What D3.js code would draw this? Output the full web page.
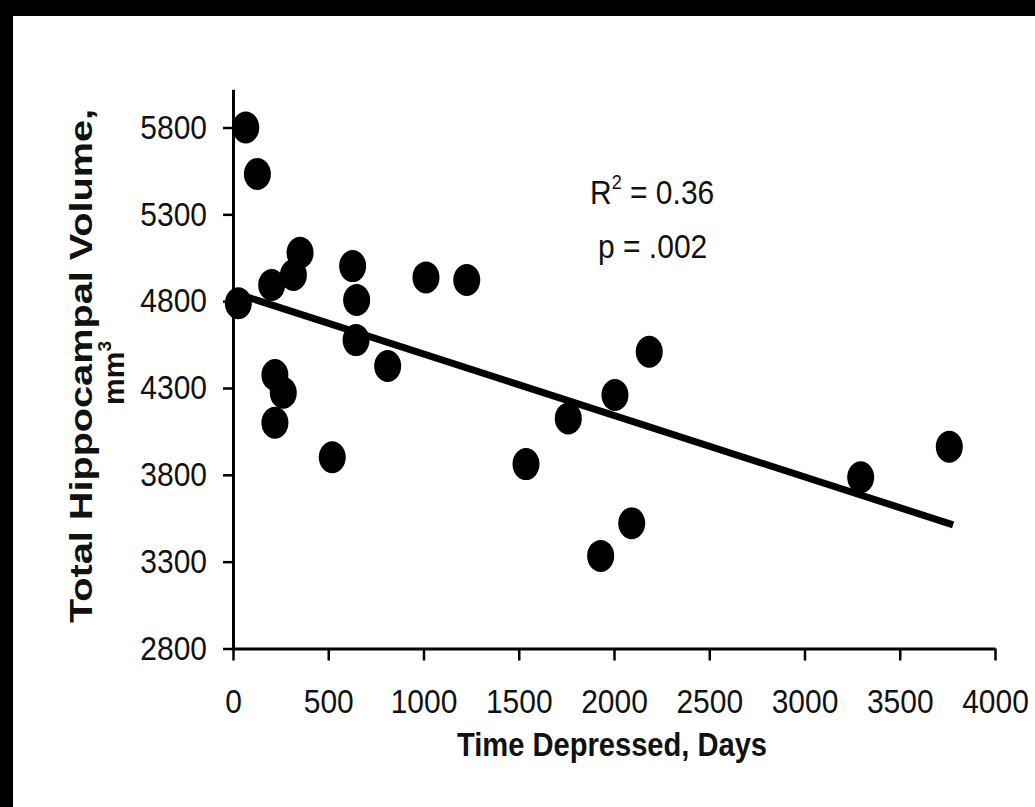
<!DOCTYPE html>
<html><head><meta charset="utf-8">
<script src="https://cdn.jsdelivr.net/npm/d3@7"></script>
<style>html,body{margin:0;padding:0;background:#fff;overflow:hidden;} svg{display:block}</style>
</head><body>
<svg id="c" width="1035" height="807"></svg>
<script>
// ---- data ----
const days    = [67, 128, 28, 203, 317, 352, 220, 264, 220, 521, 628, 649, 646, 812, 1013, 1227, 1538, 1760, 1930, 2005, 2093, 2185, 3295, 3760];
const volumes = [5800, 5532, 4788, 4893, 4951, 5079, 4375, 4273, 4100, 3901, 5002, 4807, 4576, 4427, 4937, 4922, 3862, 4125, 3333, 4260, 3521, 4509, 3786, 3962];
const fitDays = [0, 3780];
const fitVolumes = [4850, 3512];
const xTickValues = [0, 500, 1000, 1500, 2000, 2500, 3000, 3500, 4000];
const yTickValues = [2800, 3300, 3800, 4300, 4800, 5300, 5800];
const xTitle = "Time Depressed, Days";
const yTitle = "Total Hippocampal Volume,";
const yUnit = "mm";
const yUnitSup = "3";
const r2Label = ["R", "2", " = 0.36"];
const pLabel = "p = .002";

const FONT = "'Liberation Sans', Arial, Helvetica, sans-serif";
const VS = 1.12; // vertical stretch of the scanned figure

const svg = d3.select("#c");
svg.append("rect").attr("width", 1035).attr("height", 807).attr("fill", "#fff");
svg.append("rect").attr("x", 0).attr("y", 0).attr("width", 1035).attr("height", 16).attr("fill", "#000");
svg.append("rect").attr("x", 0).attr("y", 0).attr("width", 13).attr("height", 807).attr("fill", "#000");

const x = d3.scaleLinear().domain([0, 4000]).range([233, 995]);
const y = d3.scaleLinear().domain([2800, 6020]).range([648.5, 89.3]);

// y axis
const gy = svg.append("g").attr("transform", `translate(${x(0)},0)`)
  .call(d3.axisLeft(y).tickValues(yTickValues).tickSize(10).tickSizeOuter(0).tickPadding(16).tickFormat(d3.format("d")));
gy.select(".domain").attr("stroke", "#000").attr("stroke-width", 3);
gy.selectAll(".tick line").attr("stroke", "#000").attr("stroke-width", 2.5);
gy.selectAll(".tick text").attr("fill", "#111").style("font-family", FONT).style("font-size", "30px")
  .attr("transform", `scale(1,${VS})`);

// x axis
const gx = svg.append("g").attr("transform", `translate(0,${y(2800)})`)
  .call(d3.axisBottom(x).tickValues(xTickValues).tickSize(12).tickSizeOuter(0).tickFormat(d3.format("d")));
gx.select(".domain").attr("stroke", "#000").attr("stroke-width", 3);
gx.selectAll(".tick line").attr("stroke", "#000").attr("stroke-width", 2.5);
gx.selectAll(".tick text").attr("fill", "#111").style("font-family", FONT).style("font-size", "30px")
  .attr("y", 36).attr("transform", `scale(1,${VS})`);

// regression line
svg.append("line")
  .attr("x1", x(fitDays[0])).attr("y1", y(fitVolumes[0]))
  .attr("x2", x(fitDays[1])).attr("y2", y(fitVolumes[1]))
  .attr("stroke", "#000").attr("stroke-width", 7);

// points
svg.append("g").selectAll("ellipse").data(days.map((d, i) => [d, volumes[i]])).join("ellipse")
  .attr("cx", d => x(d[0])).attr("cy", d => y(d[1]))
  .attr("rx", 13.5).attr("ry", 16).attr("fill", "#000");

// annotation
const tr = svg.append("text").attr("transform", `translate(590,204) scale(1,${VS})`)
  .attr("fill", "#111").style("font-family", FONT).style("font-size", "30px");
tr.append("tspan").text(r2Label[0]);
tr.append("tspan").attr("dy", -13).style("font-size", "18px").text(r2Label[1]);
tr.append("tspan").attr("dy", 13).text(r2Label[2]);
svg.append("text").attr("transform", `translate(598,258) scale(1,${VS})`)
  .attr("fill", "#111").style("font-family", FONT).style("font-size", "30px").text(pLabel);

// axis titles
svg.append("text").attr("transform", `translate(612,756) scale(1,${VS})`)
  .attr("text-anchor", "middle").attr("fill", "#111")
  .style("font-family", FONT).style("font-size", "30px").style("font-weight", "bold")
  .attr("textLength", 310).attr("lengthAdjust", "spacingAndGlyphs").text(xTitle);

svg.append("text").attr("transform", "translate(92,366) rotate(-90)")
  .attr("text-anchor", "middle").attr("fill", "#111")
  .style("font-family", FONT).style("font-size", "31px").style("font-weight", "bold")
  .attr("textLength", 514).attr("lengthAdjust", "spacingAndGlyphs").text(yTitle);

const tu = svg.append("text").attr("transform", "translate(124,373) rotate(-90)")
  .attr("text-anchor", "middle").attr("fill", "#111")
  .style("font-family", FONT).style("font-size", "30px").style("font-weight", "bold");
tu.append("tspan").text(yUnit);
tu.append("tspan").attr("dy", -13).style("font-size", "19px").text(yUnitSup);
</script>
</body></html>
